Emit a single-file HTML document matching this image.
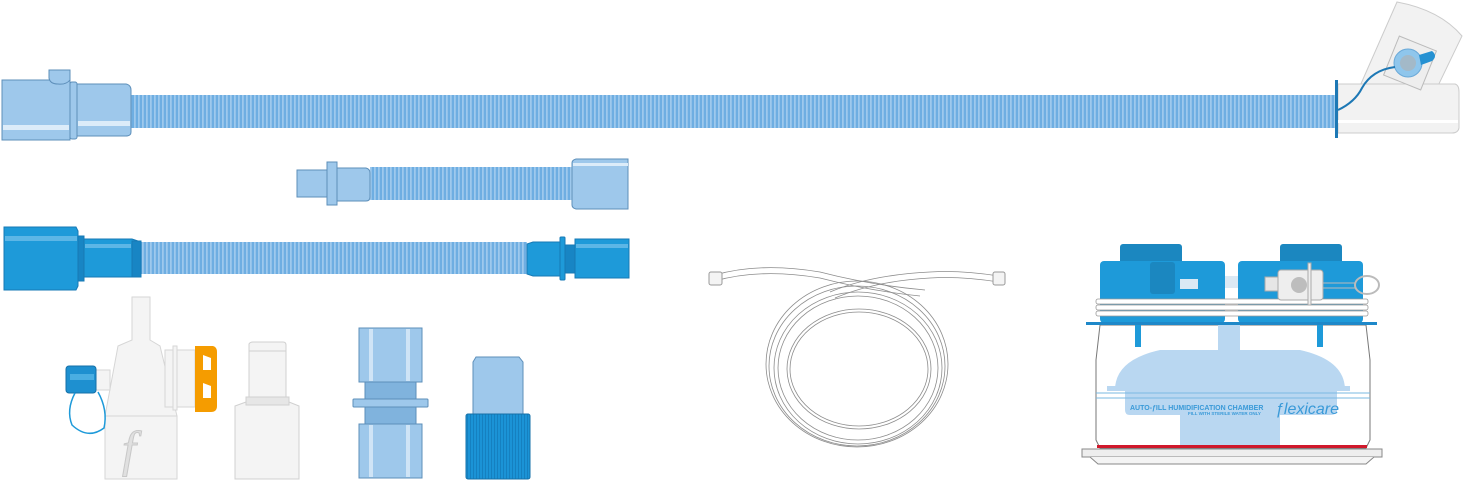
<!DOCTYPE html>
<html><head><meta charset="utf-8"><style>
html,body{margin:0;padding:0;background:#fff;width:1464px;height:482px;overflow:hidden}
svg{display:block;font-family:"Liberation Sans",sans-serif}
</style></head><body>
<svg width="1464" height="482" viewBox="0 0 1464 482" xmlns="http://www.w3.org/2000/svg">
<defs>
<pattern id="cor" width="4" height="10" patternUnits="userSpaceOnUse">
<rect width="4" height="10" fill="#6eaee2"/><rect x="2.2" width="1.4" height="10" fill="#a9d0f0"/>
</pattern>
<pattern id="cap" width="3" height="10" patternUnits="userSpaceOnUse">
<rect width="3" height="10" fill="#1b93d6"/><rect x="2" width="1" height="10" fill="#1580c0"/>
</pattern>
</defs>
<g stroke="#5d8fba" stroke-width="1">
<rect x="131" y="95" width="1205" height="33" fill="url(#cor)" stroke="none"/>
<rect x="2" y="80" width="68" height="60" fill="#9ec8eb"/>
<rect x="3" y="125" width="66" height="5" fill="#dcecf9" stroke="none"/>
<path d="M49 70 H70 V80 Q66 85 58 84 Q50 84 49 78Z" fill="#9ec8eb"/>
<rect x="70" y="82" width="7" height="57" rx="2" fill="#9ec8eb"/>
<path d="M77 84 H126 Q131 85 131 90 V132 Q131 136 126 136 H77Z" fill="#9ec8eb"/>
<rect x="78" y="121" width="52" height="5" fill="#dcecf9" stroke="none"/>
<path d="M1360 86 L1397 2 Q1440 10 1462 36 L1436 90Z" fill="#f2f2f2" stroke="#ccc"/>
<path d="M1338 84 H1455 Q1459 85 1459 92 V128 Q1458 133 1452 133 H1338Z" fill="#f2f2f2" stroke="#ccc"/>
<rect x="1338" y="120" width="120" height="3" fill="#fff" stroke="none"/>
<rect x="1390" y="42" width="40" height="42" fill="#eee" stroke="#bbb" transform="rotate(22 1410 63)"/>
<circle cx="1408" cy="63" r="14" fill="#8fc6ec" stroke="#6aa9d8"/>
<circle cx="1408" cy="63" r="8" fill="#a3b9c8" stroke="none"/>
<path d="M1419 55 L1432 51 Q1438 56 1432 61 L1421 65Z" fill="#2591d2" stroke="none"/>
<path d="M1338 110 Q1355 102 1362 88 Q1372 70 1395 67" fill="none" stroke="#1d78b5" stroke-width="2"/>
<rect x="1335" y="80" width="3" height="58" fill="#1d78b5" stroke="none"/>
<rect x="370" y="167" width="203" height="33" fill="url(#cor)" stroke="none"/>
<rect x="297" y="170" width="31" height="27" fill="#9ec8eb"/>
<rect x="327" y="162" width="10" height="43" fill="#9ec8eb"/>
<path d="M337 168 H366 Q370 169 370 173 V197 Q370 201 366 201 H337Z" fill="#9ec8eb"/>
<path d="M576 159 H628 V209 H576 Q572 208 572 205 V163 Q572 160 576 159Z" fill="#9ec8eb"/>
<rect x="573" y="163" width="55" height="3" fill="#dcecf9" stroke="none"/>
<rect x="141" y="242" width="386" height="32" fill="url(#cor)" stroke="none"/>
<g stroke="#1779b5">
<path d="M4 227 H76 L78 231 V286 L76 290 H4Z" fill="#1e9ad9"/>
<rect x="5" y="236" width="72" height="5" fill="#5cb6e6" stroke="none"/>
<rect x="78" y="236" width="6" height="45" fill="#1885c4"/>
<path d="M84 239 H132 L141 242 V275 L132 277 H84Z" fill="#1e9ad9"/>
<rect x="132" y="241" width="9" height="36" fill="#1885c4"/>
<rect x="85" y="244" width="46" height="4" fill="#5cb6e6" stroke="none"/>
<path d="M533 242 H560 V276 H533 L527 274 V244Z" fill="#1e9ad9"/>
<rect x="560" y="237" width="5" height="43" rx="1" fill="#1e9ad9"/>
<rect x="565" y="245" width="10" height="28" fill="#1885c4"/>
<rect x="575" y="239" width="54" height="39" fill="#1e9ad9"/>
<rect x="576" y="244" width="52" height="4" fill="#5cb6e6" stroke="none"/>
</g>
</g>
<g stroke="#d6d6d6" fill="#f4f4f4">
<path d="M132 297 H150 V340 L160 346 L177 416 H105 L118 346 L132 340Z"/>
<rect x="105" y="416" width="72" height="63"/>
<rect x="165" y="350" width="30" height="57"/>
<rect x="173" y="346" width="4" height="64"/>
<rect x="96" y="370" width="14" height="20"/>
<text x="122" y="466" font-size="50" font-style="italic" font-family="Liberation Serif" fill="#e0e0e0" stroke="#c8c8c8">f</text>
</g>
<path d="M195 346 H213 Q217 347 217 352 V406 Q217 412 211 412 H195Z M203 355 V370 H211 V358Z M203 383 V398 H211 V386Z" fill="#f59c00" fill-rule="evenodd"/>
<rect x="66" y="366" width="30" height="27" rx="3" fill="#1e90d0" stroke="#1570a8"/>
<rect x="70" y="374" width="24" height="6" fill="#4aaee2"/>
<path d="M75 393 Q66 410 72 425 Q88 440 104 428 Q108 410 98 392" fill="none" stroke="#1e9ad9" stroke-width="1.5"/>
<g stroke="#d0d0d0" fill="#f4f4f4">
<path d="M235 406 L246 402 H289 L299 406 V479 H235Z"/>
<rect x="246" y="397" width="43" height="8" fill="#e6e6e6"/>
<path d="M249 344 Q250 342 253 342 H283 Q286 342 286 345 V397 H249Z"/>
<line x1="249" y1="351" x2="286" y2="351"/>
</g>
<g stroke="#5d8fba">
<rect x="365" y="382" width="51" height="42" fill="#80b3dd"/>
<rect x="353" y="399" width="75" height="8" rx="1" fill="#9ec8eb"/>
<rect x="359" y="328" width="63" height="54" fill="#9ec8eb"/>
<rect x="359" y="424" width="63" height="54" fill="#9ec8eb"/>
<rect x="369" y="329" width="4" height="52" fill="#cfe4f6" stroke="none"/>
<rect x="406" y="329" width="4" height="52" fill="#cfe4f6" stroke="none"/>
<rect x="369" y="425" width="4" height="52" fill="#cfe4f6" stroke="none"/>
<rect x="406" y="425" width="4" height="52" fill="#cfe4f6" stroke="none"/>
<path d="M476 357 H519 L523 362 V415 H473 V362Z" fill="#9ec8eb"/>
<rect x="466" y="414" width="64" height="65" rx="2" fill="url(#cap)" stroke="#1570a8"/>
</g>
<g fill="none" stroke="#8c8c8c" stroke-width="0.8">
<ellipse cx="857" cy="364" rx="91" ry="83"/>
<ellipse cx="857" cy="366" rx="88" ry="80"/>
<ellipse cx="858" cy="368" rx="84" ry="76"/>
<ellipse cx="858" cy="368" rx="80" ry="72"/>
<ellipse cx="859" cy="369" rx="72" ry="60"/>
<ellipse cx="859" cy="369" rx="69" ry="57"/>
<path d="M715 275 Q760 262 820 272 Q870 285 925 290"/>
<path d="M715 281 Q760 268 820 278 Q870 291 920 296"/>
<path d="M999 276 Q960 270 930 272 Q870 275 830 292"/>
<path d="M999 282 Q960 276 930 278 Q875 281 835 298"/>
</g>
<rect x="709" y="272" width="13" height="13" rx="2" fill="#f4f4f4" stroke="#999"/>
<rect x="993" y="272" width="12" height="13" rx="2" fill="#f4f4f4" stroke="#999"/>
<path d="M1100 325 L1096 360 V440 L1100 448 H1366 L1370 440 V360 L1366 325Z" fill="#fff" stroke="#777"/>
<path d="M1218 325 H1240 V350 H1300 Q1345 360 1345 390 H1115 Q1115 360 1160 350 H1218Z" fill="#b9d7f1"/>
<rect x="1107" y="386" width="243" height="5" fill="#b9d7f1"/>
<path d="M1125 390 H1337 V410 Q1337 415 1330 415 H1130 Q1125 415 1125 410Z" fill="#b9d7f1"/>
<rect x="1180" y="415" width="100" height="30" fill="#b9d7f1"/>
<line x1="1096" y1="393" x2="1370" y2="393" stroke="#7ab8e2"/>
<line x1="1096" y1="398" x2="1370" y2="398" stroke="#7ab8e2"/>
<text x="1130" y="410" font-size="7" font-weight="bold" fill="#3a9ad8">AUTO-ƒILL HUMIDIFICATION CHAMBER</text>
<text x="1188" y="415" font-size="4.5" font-weight="bold" fill="#3a9ad8">FILL WITH STERILE WATER ONLY</text>
<text x="1275" y="414" font-size="16" fill="#3a9ad8" font-style="italic">ƒlexicare</text>
<rect x="1097" y="445" width="270" height="3" fill="#d0182b"/>
<path d="M1082 449 H1382 V457 H1082Z" fill="#eee" stroke="#888"/>
<path d="M1090 457 L1098 464 H1366 L1374 457" fill="#f4f4f4" stroke="#888"/>
<rect x="1120" y="244" width="62" height="20" rx="3" fill="#1b87c0"/>
<rect x="1280" y="244" width="62" height="20" rx="3" fill="#1b87c0"/>
<rect x="1100" y="261" width="125" height="62" rx="4" fill="#1e9ad9"/>
<rect x="1238" y="261" width="125" height="62" rx="4" fill="#1e9ad9"/>
<rect x="1150" y="262" width="25" height="32" rx="3" fill="#1b87c0"/>
<rect x="1180" y="279" width="18" height="10" fill="#dbe9f4"/>
<rect x="1225" y="276" width="13" height="12" fill="#dbe9f4"/>
<rect x="1086" y="322" width="291" height="3" fill="#1e88c9"/>
<rect x="1135" y="325" width="6" height="22" fill="#1e9ad9"/>
<rect x="1317" y="325" width="6" height="22" fill="#1e9ad9"/>
<g fill="#fff" stroke="#9a9a9a" stroke-width="0.8">
<rect x="1096" y="299" width="272" height="5" rx="2"/>
<rect x="1096" y="305" width="272" height="5" rx="2"/>
<rect x="1096" y="311" width="272" height="5" rx="2"/>
</g>
<rect x="1265" y="277" width="14" height="14" fill="#e6e6e6" stroke="#aaa"/>
<rect x="1278" y="270" width="45" height="30" rx="3" fill="#eee" stroke="#aaa"/>
<circle cx="1299" cy="285" r="8" fill="#bdbdbd"/>
<rect x="1308" y="263" width="3" height="42" fill="#eee" stroke="#aaa"/>
<path d="M1323 283 H1355 M1323 288 H1355" stroke="#bbb"/>
<ellipse cx="1367" cy="285" rx="12" ry="9" fill="none" stroke="#bbb" stroke-width="2"/>
</svg>
</body></html>
